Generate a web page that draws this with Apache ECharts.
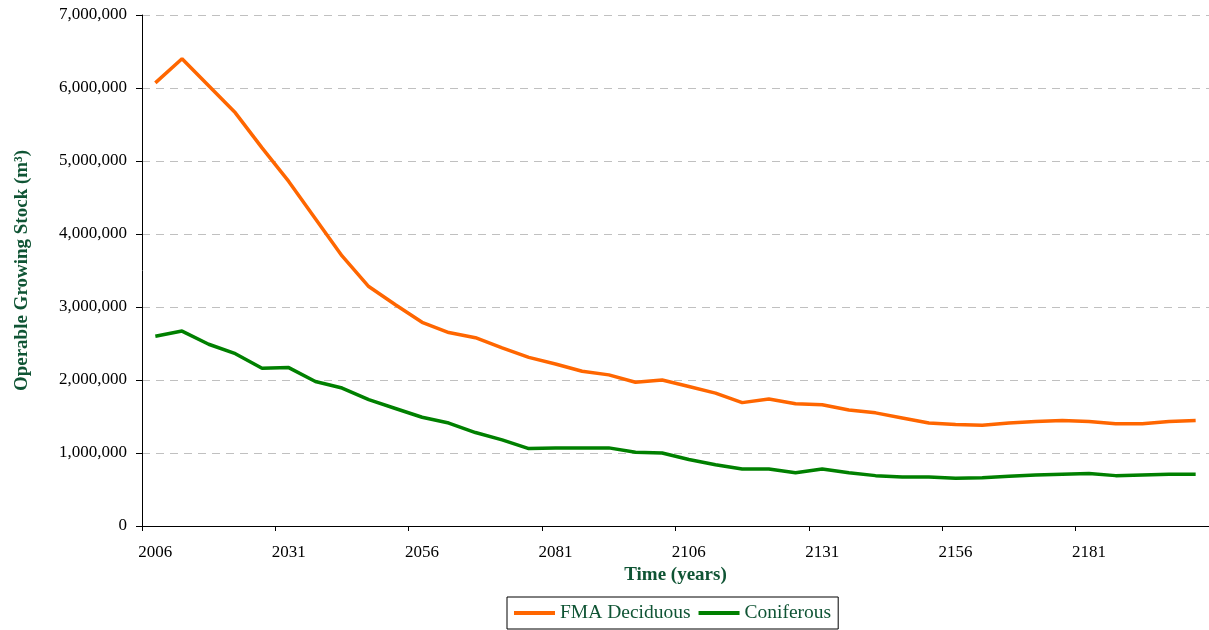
<!DOCTYPE html>
<html>
<head>
<meta charset="utf-8">
<script src="https://cdn.jsdelivr.net/npm/echarts@6.0.0/dist/echarts.min.js"></script>
<style>
    html, body { margin: 0; padding: 0; background: #fff; }
    #graph1 { width: 1209px; height: 630px; }
</style>
</head>
<body>
<div id="graph1"></div>
<script>

var years = ['2006', '2011', '2016', '2021', '2026', '2031', '2036', '2041', '2046', '2051',
    '2056', '2061', '2066', '2071', '2076', '2081', '2086', '2091', '2096', '2101',
    '2106', '2111', '2116', '2121', '2126', '2131', '2136', '2141', '2146', '2151',
    '2156', '2161', '2166', '2171', '2176', '2181', '2186', '2191', '2196', '2201'];

var deciduous = [6070000, 6400000, 6030000, 5660000, 5180000, 4720000, 4210000, 3700000, 3280000, 3030000,
    2790000, 2650000, 2580000, 2440000, 2310000, 2220000, 2120000, 2070000, 1970000, 2000000,
    1910000, 1820000, 1690000, 1740000, 1675000, 1660000, 1590000, 1550000, 1480000, 1410000,
    1390000, 1380000, 1410000, 1430000, 1445000, 1430000, 1400000, 1400000, 1430000, 1445000];

var coniferous = [2600000, 2670000, 2490000, 2360000, 2160000, 2170000, 1980000, 1890000, 1730000, 1610000,
    1490000, 1410000, 1280000, 1180000, 1060000, 1070000, 1070000, 1070000, 1010000, 1000000,
    910000, 840000, 780000, 780000, 730000, 780000, 730000, 690000, 670000, 670000,
    655000, 660000, 680000, 700000, 710000, 720000, 690000, 700000, 710000, 710000];

var seriesNames = ['FMA Deciduous', 'Coniferous'];

var darkGreen = '#0f5434';
var serif = 'Liberation Serif';

LoadGraph1();

function LoadGraph1()
{
    var graph1 = echarts.init(document.getElementById('graph1'));

    var option = {
        animation: false,
        grid: {
            left: 142,
            top: 15,
            width: 1068,
            height: 511,
            containLabel: false
        },
        legend: {
            data: seriesNames,
            left: 507,
            top: 597,
            icon: 'rect',
            itemWidth: 41,
            itemHeight: 4,
            itemGap: 8,
            padding: [6, 7, 6, 7],
            borderColor: '#000',
            borderWidth: 1,
            borderRadius: 0,
            textStyle: { fontFamily: serif, fontSize: 19.5, color: darkGreen }
        },
        xAxis: [
            {
                type: 'category',
                boundaryGap: true,
                data: years,
                name: 'Time (years)',
                nameLocation: 'middle',
                nameGap: 40,
                nameTextStyle: { fontFamily: serif, fontSize: 19, fontWeight: 'bold', color: darkGreen },
                axisLine: { lineStyle: { color: '#000', width: 1 } },
                axisTick: { show: true, interval: 4, length: 5, alignWithLabel: false, lineStyle: { color: '#000' } },
                axisLabel: { interval: 4, margin: 18, fontFamily: serif, fontSize: 17, color: '#000' },
                splitLine: { show: false }
            }
        ],
        yAxis: [
            {
                type: 'value',
                min: 0,
                max: 7000000,
                interval: 1000000,
                name: 'Operable Growing Stock (m³)',
                nameLocation: 'middle',
                nameGap: 110,
                nameTextStyle: { fontFamily: serif, fontSize: 19, fontWeight: 'bold', color: darkGreen },
                axisLine: { show: true, lineStyle: { color: '#000', width: 1 } },
                axisTick: { show: true, length: 6, lineStyle: { color: '#000' } },
                axisLabel: {
                    margin: 15,
                    fontFamily: serif,
                    fontSize: 17,
                    color: '#000',
                    formatter: function (v) {
                        return String(v).replace(/\B(?=(\d{3})+(?!\d))/g, ',');
                    }
                },
                splitLine: { show: true, lineStyle: { color: '#c0c0c0', width: 1, type: [8, 6] } }
            }
        ],
        series: [
            {
                name: seriesNames[0],
                type: 'line',
                symbol: 'none',
                smooth: false,
                color: '#ff6600',
                lineStyle: { width: 3.5, color: '#ff6600' },
                data: deciduous
            },
            {
                name: seriesNames[1],
                type: 'line',
                symbol: 'none',
                smooth: false,
                color: '#008000',
                lineStyle: { width: 3.5, color: '#008000' },
                data: coniferous
            }
        ]
    };

    graph1.setOption(option, true);
}

</script>
</body>
</html>
